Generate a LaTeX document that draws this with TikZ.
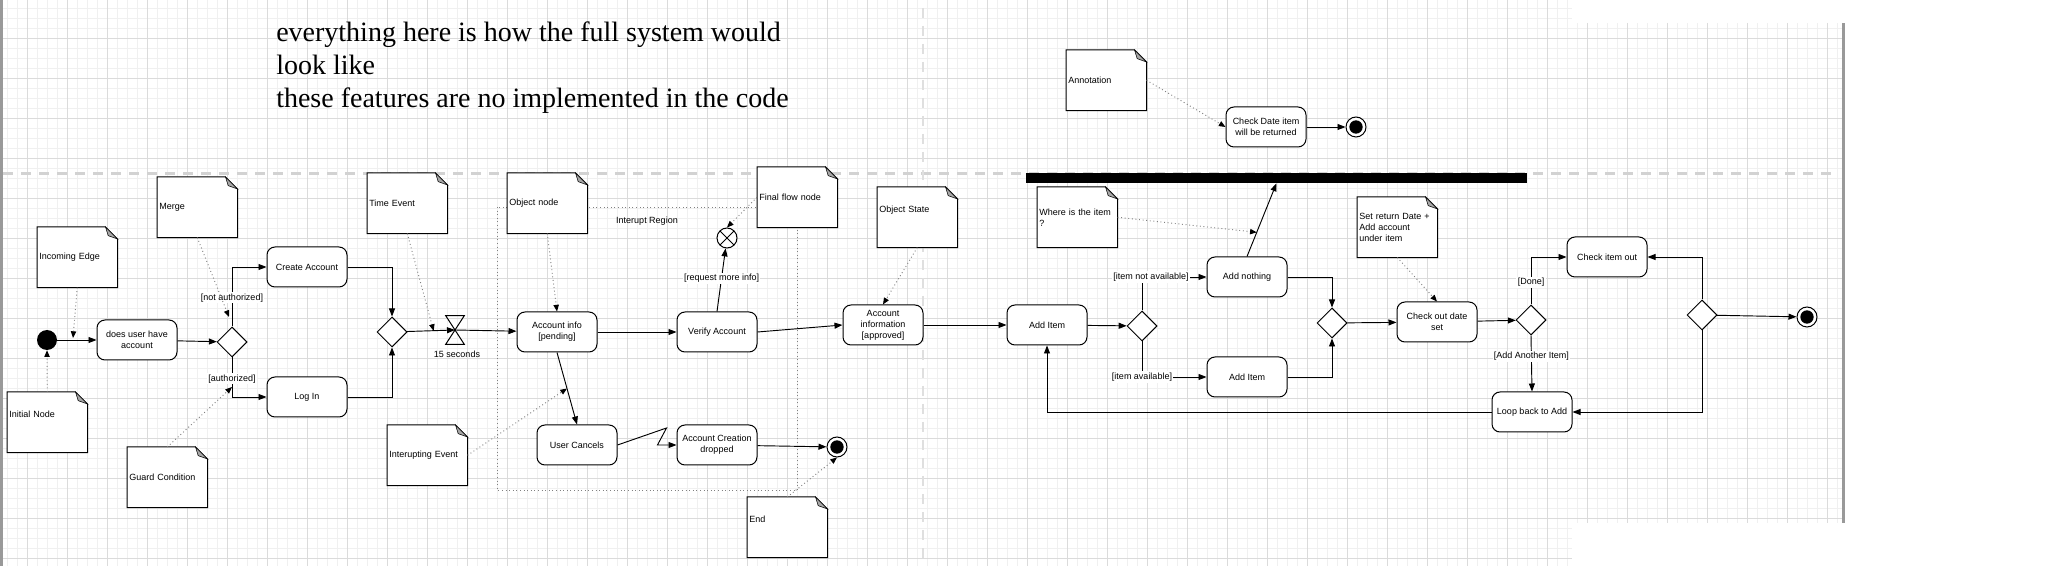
\documentclass[tikz,border=0pt]{standalone}
\usepackage{fontspec}
\setmainfont{Liberation Sans}
\newfontfamily\headfont{Liberation Serif}
\usetikzlibrary{arrows.meta,calc,shapes.geometric}
\pgfdeclarelayer{grid}
\pgfdeclarelayer{back}
\pgfsetlayers{grid,back,main}

\begin{document}
\begin{tikzpicture}[x=0.75pt, y=-0.75pt,
    font=\fontsize{6.75}{8.25}\selectfont,
    act/.style={draw, line width=0.75pt, rounded corners=6pt, fill=white, align=center,
      minimum width=60pt, minimum height=30pt, inner sep=1pt},
    dec/.style={draw, line width=0.75pt, diamond, fill=white,
      minimum width=22.5pt, minimum height=22.5pt, inner sep=0pt},
    note/.style={anchor=north west, minimum width=60pt, minimum height=45pt,
      inner xsep=1.5pt, inner ysep=0pt, text width=57pt, align=left},
    lifted/.style={text depth=12pt},
    initnode/.style={circle, fill=black, minimum size=15pt, inner sep=0pt},
    endnode/.style={circle, draw, line width=0.75pt, fill=white, minimum size=15pt, inner sep=0pt,
      path picture={\fill[black] (path picture bounding box.center) circle (5pt);}},
    flowend/.style={circle, draw, line width=0.75pt, fill=white, minimum size=15pt, inner sep=0pt,
      path picture={\draw (path picture bounding box.north west) -- (path picture bounding box.south east)
        (path picture bounding box.north east) -- (path picture bounding box.south west);}},
    flow/.style={line width=0.7pt, -{Triangle[length=6pt, width=4.5pt]}},
    hint/.style={gray, dotted, line width=0.7pt, -{Triangle[length=5pt, width=4pt, color=black]}},
    guard/.style={fill=white, inner sep=1pt},
    minor/.style={gray!12, line width=0.75pt},
    major/.style={gray!28, line width=0.9pt}
  ]
  \useasboundingbox (0,0) rectangle (2064,566);

  \begin{pgfonlayer}{grid}
    \foreach \gx in {7.3,17.3,...,1568} {\draw[minor] (\gx,0) -- (\gx,566);}
    \foreach \gx in {1577.3,1587.3,...,1838} {\draw[minor] (\gx,23) -- (\gx,523);}
    \foreach \gy in {8.3,18.3,...,560} {\draw[minor] (0,\gy) -- (1572,\gy);}
    \foreach \gy in {28.3,38.3,...,520} {\draw[minor] (1572,\gy) -- (1842,\gy);}
    \foreach \gx in {27.3,67.3,...,1568} {\draw[major] (\gx,0) -- (\gx,566);}
    \foreach \gx in {1587.3,1627.3,...,1838} {\draw[major] (\gx,23) -- (\gx,523);}
    \foreach \gy in {38.3,78.3,...,560} {\draw[major] (0,\gy) -- (1572,\gy);}
    \foreach \gy in {38.3,78.3,...,520} {\draw[major] (1572,\gy) -- (1842,\gy);}
    \fill[gray!80] (0,0) rectangle (3,566);
    \fill[gray!80] (1842,23) rectangle (1845,523);
    \draw[gray!35, line width=2.25pt, dash pattern=on 7.5pt off 6pt] (3,174) -- (1833,174);
    \draw[gray!25, line width=2pt, dash pattern=on 7.5pt off 6pt] (923,8) -- (923,558);
  \end{pgfonlayer}

  \node[anchor=north west, align=left, inner sep=0pt, font=\headfont\fontsize{21}{24.4}\selectfont] (hdr) at (276,22)
    {everything here is how the full system would\\look like\\these features are no implemented in the code};

  \node[note] (nIncoming) at (37,227) {Incoming Edge};
  \node[note, lifted] (nInitial) at (7,392) {Initial Node};
  \node[note] (nMerge) at (157,177) {Merge};
  \node[note] (nGuard) at (127,447) {Guard Condition};
  \node[note] (nTime) at (367,173) {Time Event};
  \node[note] (nInterrupt) at (387,425) {Interupting Event};
  \node[note] (nObject) at (507,173) {Object node};
  \node[note] (nFinalFlow) at (757,167) {Final flow node};
  \node[note, lifted] (nEnd) at (747,497) {End};
  \node[note, lifted] (nState) at (877,187) {Object State};
  \node[note] (nWhere) at (1037,187) {Where is the item\\?};
  \node[note] (nReturn) at (1357,197) {Set return Date +\\Add account\\under item};
  \node[note] (nAnnot) at (1066,50) {Annotation};

  \node[initnode] (iStart) at (47,340) {};
  \node[act] (aHave) at (137,340) {does user have\\account};
  \node[dec] (dAuth) at (232,342) {};
  \node[act] (aCreate) at (307,267) {Create Account};
  \node[act] (aLogin) at (307,397) {Log In};
  \node[dec] (dJoin) at (392,332) {};
  \node[minimum width=13.5pt, minimum height=21pt, inner sep=0pt] (tWait) at (455,330) {};
  \node (lWait) at (457,354) {15 seconds};
  \node (lRegion) at (647,221) {Interupt Region};
  \node[act] (aInfo) at (557,332) {Account info\\ {[pending]}};
  \node[act] (aVerify) at (717,332) {Verify Account};
  \node[flowend] (fFlow) at (727,238) {};
  \node[act] (aCancel) at (577,445) {User Cancels};
  \node[act] (aDropped) at (717,445) {Account Creation\\dropped};
  \node[endnode] (fEnd1) at (837,447) {};
  \node[act] (aApproved) at (883,325) {Account\\information\\ {[approved]}};
  \node[act] (aAdd) at (1047,325) {Add Item};
  \node[dec] (dWhere) at (1142,326) {};
  \node[act] (aNothing) at (1247,277) {Add nothing};
  \node[act] (aItem) at (1247,377) {Add Item};
  \node[fill=black, minimum width=375.75pt, minimum height=7.5pt, inner sep=0pt] (bFork) at (1276.5,178) {};
  \node[dec] (dMerge) at (1332,323) {};
  \node[act] (aDate) at (1437,322) {Check out date\\set};
  \node[dec] (dDone) at (1531,320) {};
  \node[act] (aOut) at (1607,257) {Check item out};
  \node[act] (aLoop) at (1532,412) {Loop back to Add};
  \node[dec] (dEnd) at (1702,315) {};
  \node[endnode] (fEnd2) at (1807,317) {};
  \node[act] (aReturned) at (1266,127) {Check Date item\\will be returned};
  \node[endnode] (fEnd3) at (1356,127) {};

  \draw[line width=0.75pt] (tWait.north west) -- (tWait.north east) -- (tWait.south west) -- (tWait.south east) -- cycle;

  \begin{pgfonlayer}{back}
    \draw[gray, dotted, line width=0.7pt] (497,207) rectangle (797,490);
    \foreach \n in {nIncoming,nInitial,nMerge,nGuard,nTime,nInterrupt,nObject,nFinalFlow,nEnd,nState,nWhere,nReturn,nAnnot} {
      \filldraw[fill=white, line width=0.75pt] (\n.south west) -- (\n.north west) -- ([xshift=-9pt]\n.north east)
        -- ([yshift=-9pt]\n.north east) -- (\n.south east) -- cycle;
      \filldraw[fill=gray!70, line width=0.4pt] ([xshift=-9pt]\n.north east) -- ([yshift=-9pt]\n.north east)
        -- ([xshift=-7pt, yshift=-6.5pt]\n.north east) -- cycle;
    }
  \end{pgfonlayer}

  \path (iStart) edge[flow] (aHave)
        (aHave) edge[flow] (dAuth)
        (dJoin) edge[flow] (tWait.center)
        (tWait.center) edge[flow] (aInfo)
        (aInfo) edge[flow] (aVerify)
        (aVerify.north) edge[flow] node[guard, pos=0.53] (gMore) {[request more info]} (fFlow)
        (aInfo.south) edge[flow] (aCancel.north)
        (aDropped) edge[flow] (fEnd1)
        (aVerify.east) edge[flow] (aApproved.west)
        (aApproved) edge[flow] (aAdd)
        (aAdd) edge[flow] (dWhere)
        (aNothing.north) edge[flow] (bFork.south)
        (dMerge) edge[flow] (aDate)
        (aDate) edge[flow] (dDone)
        (dDone.south) edge[flow] node[guard, pos=0.37] (gAgain) {[Add Another Item]} (aLoop.north)
        (dEnd) edge[flow] (fEnd2)
        (aReturned) edge[flow] (fEnd3);

  \draw[flow] (dAuth.north) |- node[guard, pos=0.24] (gNo) {[not authorized]} (aCreate.west);
  \draw[flow] (dAuth.south) |- node[guard, pos=0.27] (gYes) {[authorized]} (aLogin.west);
  \draw[flow] (aCreate.east) -| (dJoin.north);
  \draw[flow] (aLogin.east) -| (dJoin.south);
  \draw[flow] (aCancel.east) -- ++(49,-17) -- ++(-9,17) -- (aDropped.west);
  \draw[flow] (dWhere.north) |- node[guard, xshift=6.75pt] (gNot) {[item not available]} (aNothing.west);
  \draw[flow] (dWhere.south) |- node[guard] (gAvail) {[item available]} (aItem.west);
  \draw[flow] (aNothing.east) -| (dMerge.north);
  \draw[flow] (aItem.east) -| (dMerge.south);
  \draw[flow] (dDone.north) |- node[guard, pos=0.23] (gDone) {[Done]} (aOut.west);
  \draw[flow] (aLoop.west) -| (aAdd.south);
  \draw[flow] (dEnd.north) |- (aOut.east);
  \draw[flow] (dEnd.south) |- (aLoop.east);

  \coordinate (cIn) at (73,338);
  \coordinate (cMerge) at (229,317);
  \coordinate (cGuard) at (232,387);
  \coordinate (cTime) at ($(dJoin.east)!0.55!(tWait.center)$);
  \coordinate (cCancel) at ($(aInfo.south)!0.5!(aCancel.north)$);
  \coordinate (cWhere) at ($(aNothing.north)!0.33!(bFork.south)$);

  \draw[hint] (nIncoming.south) -- (cIn);
  \draw[hint] (nInitial.north) -- (iStart.south);
  \draw[hint] (nMerge.south) -- (cMerge);
  \draw[hint] (nGuard.north) -- (cGuard);
  \draw[hint] (nTime.south) -- (cTime);
  \draw[hint] (nInterrupt.east) -- (cCancel);
  \draw[hint] (nObject.south) -- (aInfo.north);
  \draw[hint] (nFinalFlow.west) -- (fFlow.north);
  \draw[hint] (nEnd.north) -- (fEnd1.south);
  \draw[hint] (nState.south) -- (aApproved.north);
  \draw[hint] (nWhere.east) -- (cWhere);
  \draw[hint] (nReturn.south) -- (aDate.north);
  \draw[hint] (nAnnot.east) -- (aReturned.west);
\end{tikzpicture}
\end{document}
